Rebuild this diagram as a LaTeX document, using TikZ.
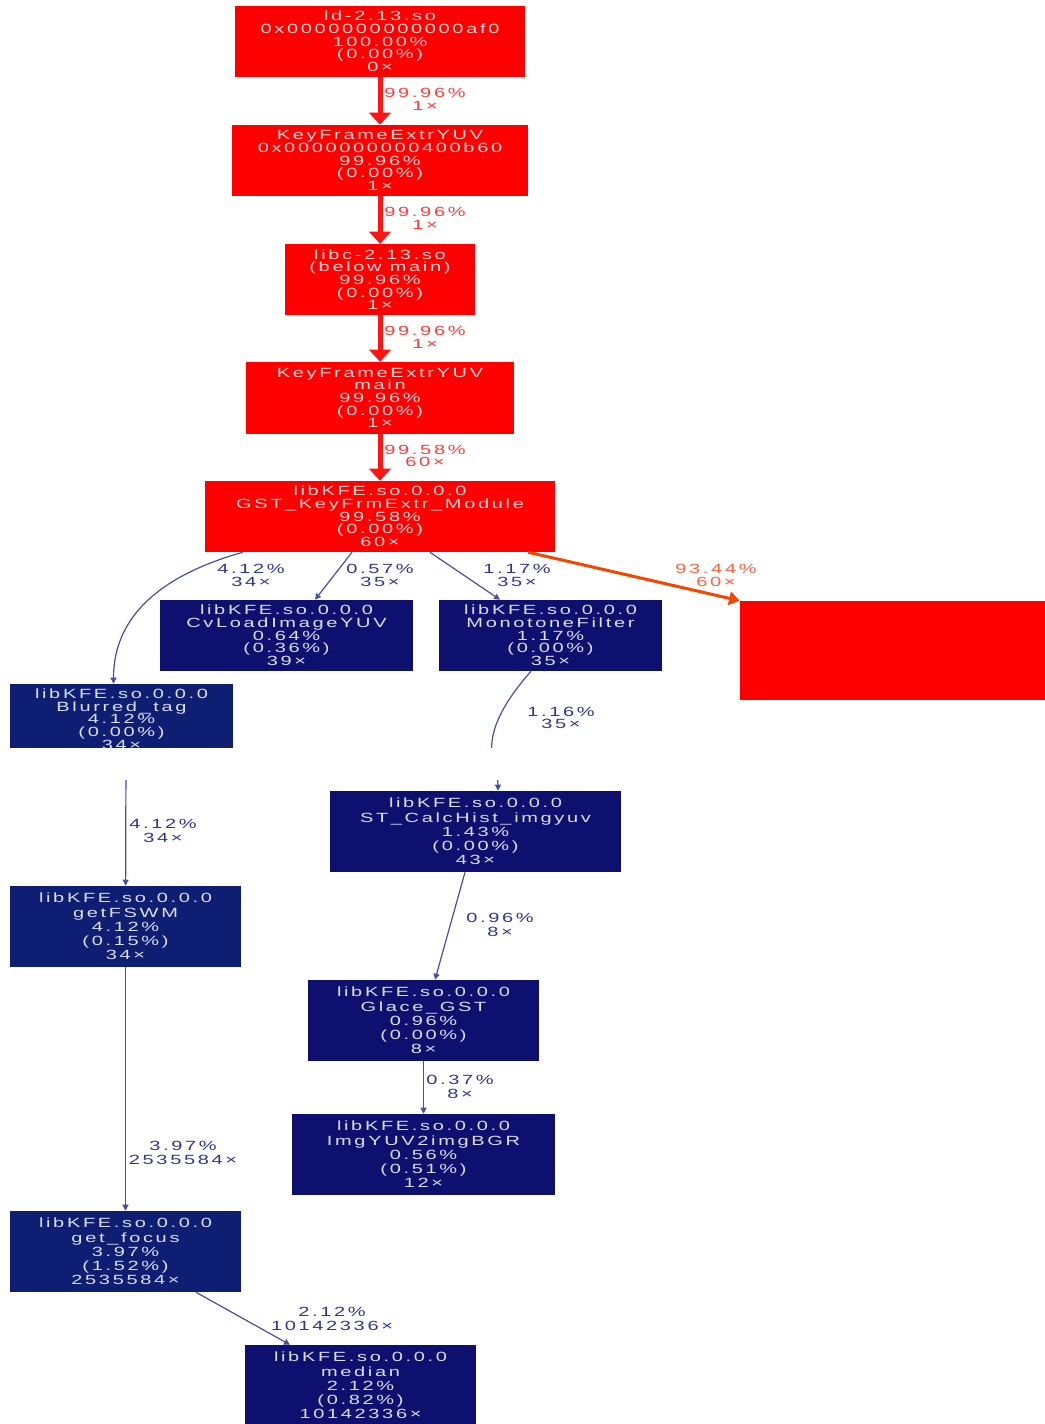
\documentclass[tikz,border=0pt]{standalone}
\usepackage{fontspec}
\setmainfont{Liberation Sans}[FakeStretch=1.5,LetterSpace=20]
\usetikzlibrary{arrows.meta,calc,positioning}

\definecolor{hotred}{RGB}{255,0,0}
\definecolor{hottext}{RGB}{255,215,215}
\definecolor{hotedge}{RGB}{255,20,20}
\definecolor{hotlab}{RGB}{255,60,60}
\definecolor{warmedge}{RGB}{245,70,0}
\definecolor{warmlab}{RGB}{250,100,60}
\definecolor{coldnavy}{RGB}{13,16,110}
\definecolor{coolnavy}{RGB}{14,30,115}
\definecolor{coldtext}{RGB}{220,222,240}
\definecolor{coldedge}{RGB}{70,80,155}
\definecolor{coldlab}{RGB}{45,55,145}

\tikzset{
  box/.style 2 args={minimum width=#1*0.75pt, minimum height=#2*0.75pt, inner sep=0pt, align=center},
  hotbox/.style={fill=hotred, text=hottext, font=\fontsize{10}{9.5}\selectfont},
  coldbox/.style={fill=coldnavy, text=coldtext, font=\fontsize{10}{10.7}\selectfont},
  coolbox/.style={coldbox, fill=coolnavy},
  hotlabel/.style={text=hotlab, align=center, inner sep=0pt, font=\fontsize{10}{9.6}\selectfont},
  warmlabel/.style={hotlabel, text=warmlab},
  coldlabel/.style={text=coldlab, align=center, inner sep=0pt, font=\fontsize{10}{9.6}\selectfont},
  lowlabel/.style={coldlabel, font=\fontsize{10}{10.5}\selectfont},
  hotarrow/.style={draw=hotedge, line width=3.75pt, -{Triangle[length=9pt, width=16pt]}},
  warmarrow/.style={draw=warmedge, line width=2.25pt, -{Triangle[length=8pt, width=10pt]}},
  coldarrow/.style={draw=coldedge, line width=0.9pt, -{Triangle[length=4.5pt, width=4.5pt]}}
}

\begin{document}
\begin{tikzpicture}[x=0.75pt, y=-0.75pt]
\useasboundingbox (0,0) rectangle (1045,1424);

\node[hotbox, box={290}{71}] (ld) at (380,41.5) {ld-2.13.so\\0x0000000000000af0\\100.00\%\\(0.00\%)\\0×};
\node[hotbox, box={296}{71}] (kfe) at (380,160.5) {KeyFrameExtrYUV\\0x0000000000400b60\\99.96\%\\(0.00\%)\\1×};
\node[hotbox, box={190}{71}] (libc) at (380,279.5) {libc-2.13.so\\(below main)\\99.96\%\\(0.00\%)\\1×};
\node[hotbox, box={268}{72}] (main) at (380,398) {KeyFrameExtrYUV\\main\\99.96\%\\(0.00\%)\\1×};
\node[hotbox, box={350}{71}] (gst) at (380,516.5) {libKFE.so.0.0.0\\GST\_KeyFrmExtr\_Module\\99.58\%\\(0.00\%)\\60×};
\node[hotbox, box={305}{99}] (hot) at (892.5,650.5) {};

\node[coldbox, box={253}{71}, font=\fontsize{10}{9.5}\selectfont] (cv) at (286.5,635.5) {libKFE.so.0.0.0\\CvLoadImageYUV\\0.64\%\\(0.36\%)\\39×};
\node[coldbox, box={223}{71}, font=\fontsize{10}{9.5}\selectfont] (mono) at (550.5,635.5) {libKFE.so.0.0.0\\MonotoneFilter\\1.17\%\\(0.00\%)\\35×};
\node[coolbox, box={223}{70}, font=\fontsize{10}{9.5}\selectfont] (blur) at (121.5,719) {libKFE.so.0.0.0\\Blurred\_tag\\4.12\%\\(0.00\%)\\34×};

\node[coldbox, box={291}{81}] (calc) at (475.5,831.5) {libKFE.so.0.0.0\\ST\_CalcHist\_imgyuv\\1.43\%\\(0.00\%)\\43×};
\node[coolbox, box={231}{81}] (fswm) at (125.5,926.5) {libKFE.so.0.0.0\\getFSWM\\4.12\%\\(0.15\%)\\34×};
\node[coldbox, box={231}{81}] (glace) at (423.5,1020.5) {libKFE.so.0.0.0\\Glace\_GST\\0.96\%\\(0.00\%)\\8×};
\node[coldbox, box={263}{81}] (img) at (423.5,1154.5) {libKFE.so.0.0.0\\ImgYUV2imgBGR\\0.56\%\\(0.51\%)\\12×};
\node[coolbox, box={231}{81}] (focus) at (125.5,1251.5) {libKFE.so.0.0.0\\get\_focus\\3.97\%\\(1.52\%)\\2535584×};
\node[coldbox, box={231}{81}] (median) at (360.5,1385.5) {libKFE.so.0.0.0\\median\\2.12\%\\(0.82\%)\\10142336×};

\draw[hotarrow] (ld) -- (kfe);
\draw[hotarrow] (kfe) -- (libc);
\draw[hotarrow] (libc) -- (main);
\draw[hotarrow] (main) -- (gst);
\draw[warmarrow] ($(gst.south east)+(-27,0)$) -- (hot.north west);
\draw[coldarrow] ($(gst.south west)+(38,0)$) .. controls ($(gst.south west)+(-40,22)$) and ($(blur.north)+(-8,-70)$) .. ($(blur.north)+(-8,0)$);
\draw[coldarrow] ($(gst.south)+(-28,0)$) -- ($(cv.north)+(28.5,0)$);
\draw[coldarrow] ($(gst.south)+(50,0)$) -- ($(mono.north)+(-50.5,0)$);
\draw[coldarrow] ($(mono.south)+(-19.5,0)$) .. controls ($(mono.south)+(-80.5,69)$) and ($(calc.north)+(22.5,-26)$) .. ($(calc.north)+(22.5,0)$);
\draw[coldarrow] ($(blur.south)+(4.5,0)$) -- (fswm);
\draw[coldarrow] ($(calc.south)+(-10.5,0)$) -- ($(glace.north)+(11.5,0)$);
\draw[coldarrow] (fswm) -- (focus);
\draw[coldarrow] (glace) -- (img);
\draw[coldarrow] ($(focus.south)+(70.5,0)$) -- ($(median.north)+(-70.5,0)$);

\fill[white] (0,748) rectangle (1045,780);

\node[hotlabel] (p1) at (425,99.5) {99.96\%\\1×};
\node[hotlabel] (p2) at (425,218.5) {99.96\%\\1×};
\node[hotlabel] (p3) at (425,337.5) {99.96\%\\1×};
\node[hotlabel] (p4) at (425,456) {99.58\%\\60×};
\node[coldlabel] (p5) at (251,575.5) {4.12\%\\34×};
\node[coldlabel] (p6) at (380,575.5) {0.57\%\\35×};
\node[coldlabel] (p7) at (517,575.5) {1.17\%\\35×};
\node[warmlabel] (p8) at (716,575.5) {93.44\%\\60×};
\node[coldlabel] (p9) at (561,718) {1.16\%\\35×};
\node[lowlabel] (p10) at (163,831) {4.12\%\\34×};
\node[lowlabel] (p11) at (500,925) {0.96\%\\8×};
\node[lowlabel] (p12) at (460,1087) {0.37\%\\8×};
\node[lowlabel] (p13) at (183,1153) {3.97\%\\2535584×};
\node[lowlabel] (p14) at (332,1318.5) {2.12\%\\10142336×};

\end{tikzpicture}
\end{document}
